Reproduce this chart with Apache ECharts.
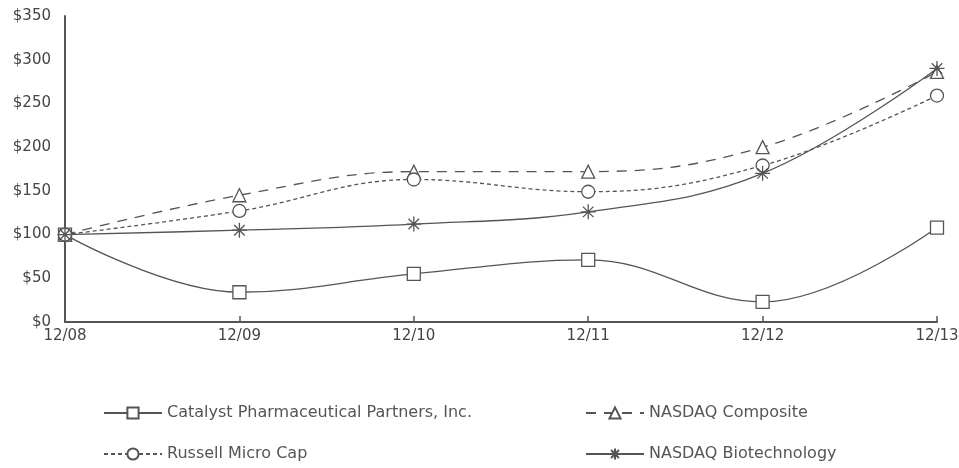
<!DOCTYPE html>
<html>
<head>
<meta charset="utf-8">
<script src="https://cdn.jsdelivr.net/npm/echarts@6/dist/echarts.min.js"></script>
<style>
  html, body { margin: 0; padding: 0; background: #fff; }
  #main { width: 959px; height: 468px; }
</style>
</head>
<body>
<div id="main"></div>
<script>
var years = ['12/08', '12/09', '12/10', '12/11', '12/12', '12/13'];
var yTicks = [0, 50, 100, 150, 200, 250, 300, 350];
var catalyst = [100, 34, 55, 71, 23, 108];
var nasdaqComposite = [100, 145, 172, 172, 200, 286];
var russellMicroCap = [100, 127, 163, 149, 179, 259];
var nasdaqBiotech = [100, 105, 112, 126, 170, 290];

var grey = '#555';
var star = 'path://M0 5 L10 5 M5 0 L5 10 M1.5 1.5 L8.5 8.5 M8.5 1.5 L1.5 8.5';

function makeSeries(name, data, symbol, dash, size) {
    return {
        name: name,
        type: 'line',
        data: data,
        smooth: 0.4,
        symbol: symbol,
        symbolSize: size,
        showAllSymbol: true,
        lineStyle: { color: grey, width: 1.3, type: dash },
        itemStyle: { color: '#fff', borderColor: grey, borderWidth: 1.3 },
        emphasis: { disabled: true }
    };
}

function legendAt(name, left, top) {
    return {
        data: [name],
        left: left,
        top: top,
        itemWidth: 58,
        itemHeight: 14,
        itemGap: 8,
        textStyle: { fontFamily: 'DejaVu Sans', fontSize: 16, color: '#555' }
    };
}

var chart = echarts.init(document.getElementById('main'));
chart.setOption({
    animation: false,
    backgroundColor: '#fff',
    grid: { left: 65, right: 22, top: 16, bottom: 146, outerBoundsMode: 'none', containLabel: false },
    legend: [
        legendAt('Catalyst Pharmaceutical Partners, Inc.', 98, 400),
        legendAt('Russell Micro Cap', 98, 441),
        legendAt('NASDAQ Composite', 580, 400),
        legendAt('NASDAQ Biotechnology', 580, 441)
    ],
    xAxis: {
        type: 'category',
        data: years,
        boundaryGap: false,
        axisLine: { lineStyle: { color: grey, width: 2 } },
        axisTick: { inside: true, length: 6, lineStyle: { color: grey, width: 1.5 } },
        axisLabel: { fontFamily: 'DejaVu Sans', fontSize: 15, color: '#444', margin: 7 },
        splitLine: { show: false }
    },
    yAxis: {
        type: 'value',
        min: 0,
        max: 350,
        interval: 50,
        axisLine: { show: true, lineStyle: { color: grey, width: 2 } },
        axisTick: { show: false },
        axisLabel: {
            fontFamily: 'DejaVu Sans', fontSize: 15, color: '#444', margin: 14,
            formatter: function (v) { return yTicks.indexOf(v) >= 0 ? '$' + v : ''; }
        },
        splitLine: { show: false }
    },
    series: [
        makeSeries('Catalyst Pharmaceutical Partners, Inc.', catalyst, 'rect', 'solid', 13),
        makeSeries('NASDAQ Composite', nasdaqComposite, 'triangle', [10, 8], 13),
        makeSeries('Russell Micro Cap', russellMicroCap, 'circle', [4, 3], 13),
        makeSeries('NASDAQ Biotechnology', nasdaqBiotech, star, 'solid', 15)
    ]
});
</script>
</body>
</html>
